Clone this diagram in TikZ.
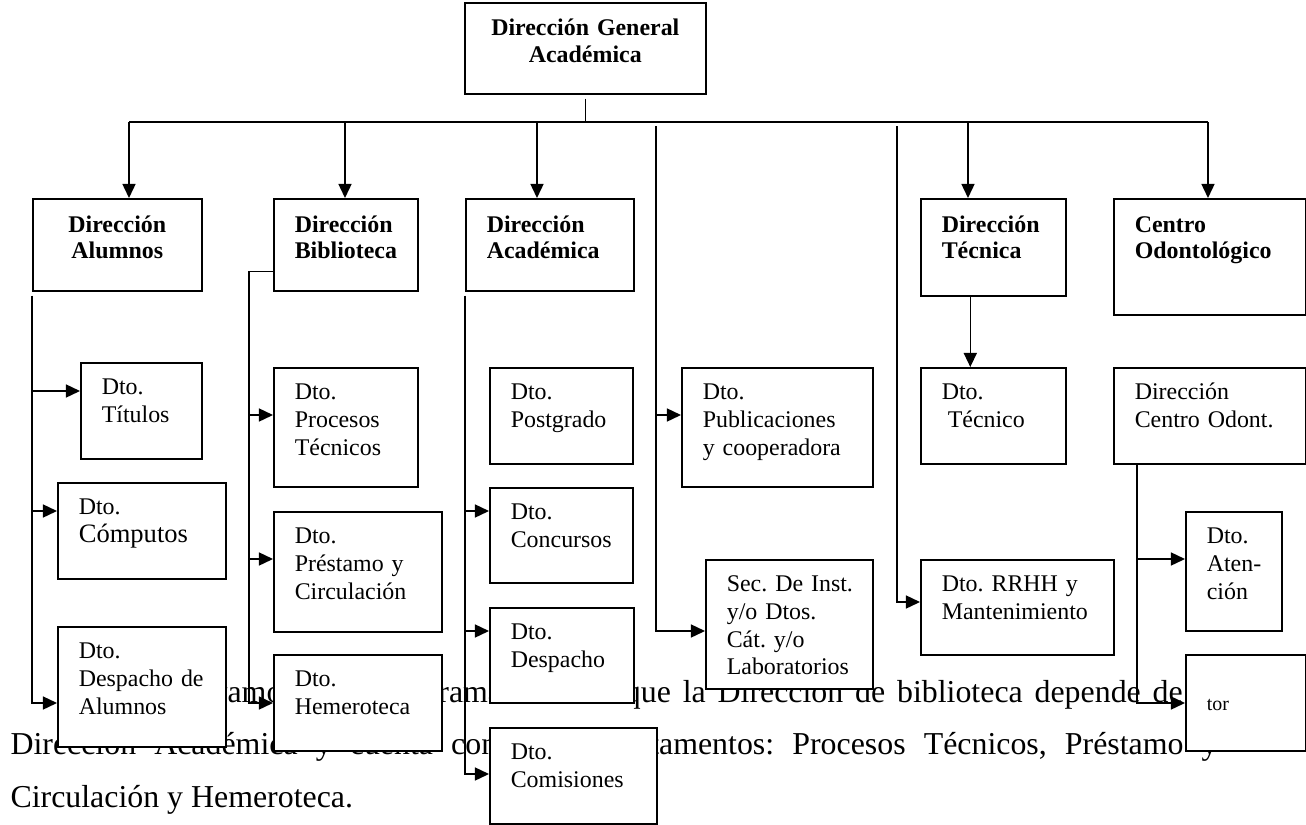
\documentclass[tikz,border=0pt]{standalone}
\usepackage{fontspec}
\setmainfont{Liberation Serif}
\usetikzlibrary{arrows.meta}
\newlength{\pix}
\setlength{\pix}{0.3765pt}
\hyphenpenalty=10000
\frenchspacing
\newcommand{\fcaja}{\fontsize{9pt}{10.5pt}\selectfont}
\newcommand{\fjefe}{\fontsize{9pt}{9.8pt}\selectfont\bfseries}
\newcommand{\ftexto}{\fontsize{12pt}{14pt}\selectfont}
\tikzset{
  caja/.style 2 args={draw, line width=0.6pt, fill=white, anchor=north west,
    inner sep=0pt, align=left, font=\fcaja,
    execute at begin node={\leftskip=21\pix},
    text width={#1*\pix}, text height=31.5*\pix, text depth={(#2-31.5)*\pix}},
  jefe/.style 2 args={caja={#1}{#2}, font=\fjefe,
    text height=34*\pix, text depth={(#2-34)*\pix}},
  centrado/.style={align=center,
    execute at begin node={\leftskip=0pt plus 1fil\rightskip=0pt plus 1fil}},
  flecha/.style={-{Triangle[length=5.3pt,width=4.9pt]}, line width=0.6pt},
  linea/.style={line width=0.6pt},
  parrafo/.style={anchor=base west, inner sep=0pt, font=\ftexto}
}
\begin{document}
\begin{tikzpicture}[x=0.3765pt, y=-0.3765pt]
\useasboundingbox (0,0) rectangle (1306,825);

% texto de la pagina (queda detras de las cajas)
\node[parrafo] (par1) at (135,702) {\makebox[1082\pix][s]{Observamos el organigrama anterior que la Dirección de biblioteca depende de la}};
\node[parrafo] (par2) at (10,754) {\makebox[1207\pix][s]{Dirección Académica y cuenta con tres departamentos: Procesos Técnicos, Préstamo y}};
\node[parrafo] (par3) at (10,807) {Circulación y Hemeroteca.};

% nivel 1 y 2
\node[jefe={241}{91}, centrado, text height=33*\pix, text depth={58*\pix},
      font=\fontsize{9pt}{10.2pt}\selectfont\bfseries] (dga) at (464,2) {Dirección General\\Académica};
\node[jefe={169}{92}, centrado] (alum) at (32,198) {Dirección\\Alumnos};
\node[jefe={144}{92}] (bib) at (273,198) {Dirección\\Biblioteca};
\node[jefe={168}{92}] (acad) at (465,198) {Dirección\\Académica};
\node[jefe={145}{97}] (tec) at (920,198) {Dirección\\Técnica};
\node[jefe={192}{116}] (cen) at (1113,198) {Centro\\Odontológico};

% departamentos
\node[caja={121}{96}] (tit) at (80,362) {Dto.\\Títulos};
\node[caja={168}{96}] (comp) at (57,482) {Dto.\\\fontsize{10pt}{11.7pt}\selectfont Cómputos};
\node[caja={168}{120}] (despal) at (57,626) {Dto.\\Despacho de\\Alumnos};
\node[caja={144}{119}] (proc) at (273,367) {Dto.\\Procesos\\Técnicos};
\node[caja={168}{120}] (pres) at (273,511) {Dto.\\Préstamo y\\Circulación};
\node[caja={168}{96}] (hem) at (273,654) {Dto.\\Hemeroteca};
\node[caja={143}{96}] (post) at (489,367) {Dto.\\Postgrado};
\node[caja={143}{95}] (conc) at (489,487) {Dto.\\Concursos};
\node[caja={144}{95}] (desp) at (489,607) {Dto.\\Despacho};
\node[caja={167}{96}] (comi) at (489,727) {Dto.\\Comisiones};
\node[caja={191}{119}] (pub) at (681,367) {Dto.\\Publicaciones\\y cooperadora};
\node[caja={167}{129}] (sec) at (705,559) {Sec. De Inst.\\y/o Dtos.\\Cát. y/o\\Laboratorios};
\node[caja={145}{96}] (dtec) at (920,367) {Dto.\\\hspace*{6\pix}Técnico};
\node[caja={193}{95}] (rrhh) at (920,559) {Dto. RRHH y\\Mantenimiento};
\node[caja={192}{96}] (dco) at (1113,367) {Dirección\\Centro Odont.};
\node[caja={96}{119}] (aten) at (1185,511) {Dto.\\Aten-\\ción};
\node[caja={120}{96}, font=\fontsize{7.5pt}{9pt}\selectfont,
      text height=56*\pix, text depth={40*\pix}] (tor) at (1185,654) {tor};

% barra principal
\coordinate (bw) at (129,122);
\coordinate (b2) at (345,122);
\coordinate (b3) at (537,122);
\coordinate (b4) at (968,122);
\coordinate (be) at (1208,122);
\draw[linea] ([yshift=-4*\pix]dga.south) -- (dga.south |- bw);
\draw[linea] (bw) -- (be);
\draw[flecha] (bw) -- (bw |- alum.north);
\draw[flecha] (b2) -- (b2 |- bib.north);
\draw[flecha] (b3) -- (b3 |- acad.north);
\draw[flecha] (b4) -- (b4 |- tec.north);
\draw[flecha] (be) -- (be |- cen.north);

% alumnos
\coordinate (al1) at (32,391);
\coordinate (al2) at (32,511);
\coordinate (al3) at (32,703);
\draw[flecha] ([yshift=-4*\pix]alum.south west) |- (al3 -| despal.west);
\draw[flecha] (al1) -- (al1 -| tit.west);
\draw[flecha] (al2) -- (al2 -| comp.west);

% biblioteca
\coordinate (bi1) at (249,415);
\coordinate (bi2) at (249,559);
\coordinate (bi3) at (249,703);
\draw[flecha] ([yshift=20*\pix]bib.south west) -| (bi3) -- (bi3 -| hem.west);
\draw[flecha] (bi1) -- (bi1 -| proc.west);
\draw[flecha] (bi2) -- (bi2 -| pres.west);

% academica
\coordinate (ac1) at (465,511);
\coordinate (ac2) at (465,631);
\coordinate (ac3) at (465,774);
\draw[flecha] ([yshift=-4*\pix]acad.south west) |- (ac3 -| comi.west);
\draw[flecha] (ac1) -- (ac1 -| conc.west);
\draw[flecha] (ac2) -- (ac2 -| desp.west);

% publicaciones y secretaria
\coordinate (pu0) at (656,126);
\coordinate (pu1) at (656,415);
\coordinate (pu2) at (656,631);
\draw[flecha] (pu0) |- (pu2 -| sec.west);
\draw[flecha] (pu1) -- (pu1 -| pub.west);

% tecnica
\draw[flecha] ([xshift=-23*\pix]tec.south) -- ([xshift=-23*\pix]dtec.north);
\coordinate (te0) at (897,126);
\coordinate (te1) at (897,602);
\draw[flecha] (te0) |- (te1 -| rrhh.west);

% centro odontologico
\coordinate (co1) at (1137,559);
\coordinate (co2) at (1137,703);
\draw[flecha] ([xshift=24*\pix]dco.south west) |- (co2 -| tor.west);
\draw[flecha] (co1) -- (co1 -| aten.west);
\end{tikzpicture}
\end{document}
